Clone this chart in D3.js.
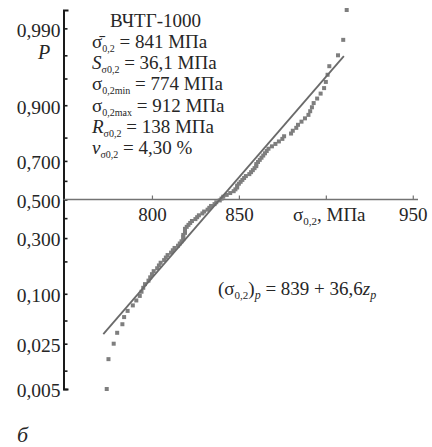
<!DOCTYPE html>
<html>
<head>
<meta charset="utf-8">
<script src="https://cdn.jsdelivr.net/npm/d3@7"></script>
<style>
  html, body { margin: 0; padding: 0; background: #fff; }
  svg { display: block; }
</style>
</head>
<body>
<svg id="chart" width="432" height="447"></svg>
<script>
// Yield strength σ0,2 of ВЧТГ-1000 samples, sorted ascending (MPa)
const sigmaValues = [
  774, 775, 778, 780, 783, 784, 786, 789, 791, 793,
  794, 795, 796, 798, 799, 800, 801, 803, 804, 805,
  807, 808, 809, 811, 812, 813, 815, 816, 817, 818,
  818, 818, 819, 819, 819, 820, 821, 822, 823, 825,
  826, 827, 829, 830, 832, 833, 834, 836, 837, 839,
  840, 841, 843, 845, 847, 848, 849, 849, 850, 851,
  852, 853, 854, 856, 857, 858, 859, 860, 860, 861,
  862, 863, 864, 865, 866, 867, 869, 871, 873, 875,
  876, 880, 881, 883, 884, 886, 888, 890, 891, 892,
  893, 895, 897, 899, 900, 901, 902, 907, 910, 912
];

// Probability-axis ticks
const pMajor = [0.005, 0.025, 0.1, 0.3, 0.5, 0.7, 0.9, 0.99];
const pMajorLabels = ["0,005", "0,025", "0,100", "0,300", "0,500", "0,700", "0,900", "0,990"];
const pMinor = [0.01, 0.05, 0.2, 0.4, 0.6, 0.8, 0.95, 0.975];
const pLimits = [0.005, 0.995];

// Strength-axis ticks (900 is left unlabelled: the axis title sits there)
const xTicks = [800, 850, 900, 950];
const xTickLabels = ["800", "850", "", "950"];
const xDomain = [750, 953];

// Fitted line (σ0,2)p = 839 + 36,6 zp, drawn over this z span
const fitIntercept = 839;
const fitSlope = 36.6;
const fitZSpan = [-1.83, 1.95];

// Statistics block
const titleText = "ВЧТГ-1000";
const statLines = [
  { sym: "σ\u0304", symItalic: false, sub: "0,2", text: " = 841 МПа" },
  { sym: "S", symItalic: true, sub: "σ0,2", text: " = 36,1 МПа" },
  { sym: "σ", symItalic: false, sub: "0,2min", text: " = 774 МПа" },
  { sym: "σ", symItalic: false, sub: "0,2max", text: " = 912 МПа" },
  { sym: "R", symItalic: true, sub: "σ0,2", text: " = 138 МПа" },
  { sym: "v", symItalic: true, sub: "σ0,2", text: " = 4,30 %" }
];

const FONT = '"Liberation Serif"';

// Inverse standard normal CDF (Acklam's rational approximation)
function probit(p) {
  const a = [-3.969683028665376e+01, 2.209460984245205e+02, -2.759285104469687e+02,
             1.383577518672690e+02, -3.066479806614716e+01, 2.506628277459239e+00];
  const b = [-5.447609879822406e+01, 1.615858368580409e+02, -1.556989798598866e+02,
             6.680131188771972e+01, -1.328068155288572e+01];
  const c = [-7.784894002430293e-03, -3.223964580411365e-01, -2.400758277161838e+00,
             -2.549671500258210e+00, 4.374664141464968e+00, 2.938163982698783e+00];
  const d = [7.784695709041462e-03, 3.224671290700398e-01, 2.445134137142996e+00,
             3.754408661907416e+00];
  const pl = 0.02425, ph = 1 - pl;
  let q, r;
  if (p < pl) {
    q = Math.sqrt(-2 * Math.log(p));
    return (((((c[0]*q+c[1])*q+c[2])*q+c[3])*q+c[4])*q+c[5]) /
           ((((d[0]*q+d[1])*q+d[2])*q+d[3])*q+1);
  } else if (p <= ph) {
    q = p - 0.5; r = q * q;
    return (((((a[0]*r+a[1])*r+a[2])*r+a[3])*r+a[4])*r+a[5])*q /
           (((((b[0]*r+b[1])*r+b[2])*r+b[3])*r+b[4])*r+1);
  } else {
    q = Math.sqrt(-2 * Math.log(1 - p));
    return -(((((c[0]*q+c[1])*q+c[2])*q+c[3])*q+c[4])*q+c[5]) /
            ((((d[0]*q+d[1])*q+d[2])*q+d[3])*q+1);
  }
}

const svg = d3.select("#chart");
const axisX0 = 63.5;

const x = d3.scaleLinear().domain(xDomain).range([65, 418]);
const y = d3.scaleLinear().domain(pLimits.map(probit)).range([389, 10]);

const textColor = "#262626";
const markColor = "#7e7e7e";

// Serif text helper
function serif(sel, size) {
  return sel.style("font-family", FONT).style("font-size", size + "px").attr("fill", textColor);
}

// Y axis (probability scale): bracket-shaped domain, inward ticks
const yAxis = d3.axisLeft(y)
  .tickValues(pMajor.map(probit))
  .tickFormat((d, i) => pMajorLabels[i])
  .tickSizeInner(-4)
  .tickSizeOuter(-5)
  .tickPadding(3);

const gy = svg.append("g").attr("transform", `translate(${axisX0},0)`).call(yAxis);
gy.select(".domain").attr("stroke", "#1a1a1a").attr("stroke-width", 2);
gy.selectAll(".tick line").attr("stroke", "#1a1a1a").attr("stroke-width", 1.6);
serif(gy.selectAll(".tick text"), 19.5).attr("dy", "0.4em");

const yMinor = d3.axisLeft(y)
  .tickValues(pMinor.map(probit))
  .tickFormat("")
  .tickSizeInner(-4)
  .tickSizeOuter(0);
const gym = svg.append("g").attr("transform", `translate(${axisX0},0)`).call(yMinor);
gym.select(".domain").remove();
gym.selectAll(".tick line").attr("stroke", "#1a1a1a").attr("stroke-width", 1.6);

// X axis through P = 0,500
const xAxis = d3.axisBottom(x)
  .tickValues(xTicks)
  .tickFormat((d, i) => xTickLabels[i])
  .tickSizeInner(-4)
  .tickSizeOuter(0)
  .tickPadding(8);
const gx = svg.append("g").attr("transform", `translate(0,${y(probit(0.5))})`).call(xAxis);
gx.select(".domain").attr("stroke", "#737373").attr("stroke-width", 1.6)
  .attr("d", `M${axisX0},0H${x(xDomain[1])}`);
gx.selectAll(".tick line").attr("stroke", "#737373").attr("stroke-width", 1.2);
serif(gx.selectAll(".tick text"), 19);

// Axis titles
const xTitle = serif(svg.append("text").attr("x", 293).attr("y", 221), 19);
xTitle.append("tspan").text("σ");
xTitle.append("tspan").style("font-size", "11px").attr("dy", 4).text("0,2");
xTitle.append("tspan").attr("dy", -4).text(", МПа");

serif(svg.append("text").attr("x", 38).attr("y", 59), 20)
  .style("font-style", "italic").text("P");

// Sample points at plotting positions (i - 0.5) / n
const n = sigmaValues.length;
svg.append("g").selectAll("rect")
  .data(sigmaValues)
  .join("rect")
  .attr("x", d => x(d) - 2)
  .attr("y", (d, i) => y(probit((i + 0.5) / n)) - 2)
  .attr("width", 4).attr("height", 4)
  .attr("fill", markColor);

// Fitted straight line
svg.append("line")
  .attr("x1", x(fitIntercept + fitSlope * fitZSpan[0]))
  .attr("y1", y(fitZSpan[0]))
  .attr("x2", x(fitIntercept + fitSlope * fitZSpan[1]))
  .attr("y2", y(fitZSpan[1]))
  .attr("stroke", "#6a6a6a").attr("stroke-width", 1.8);

// Statistics block
serif(svg.append("text").attr("x", 110).attr("y", 27), 19).text(titleText);

statLines.forEach((s, i) => {
  const t = serif(svg.append("text").attr("x", 92).attr("y", 48 + 21.2 * i), 19);
  t.append("tspan").style("font-style", s.symItalic ? "italic" : "normal").text(s.sym);
  t.append("tspan").style("font-size", "10px").attr("dy", 4).text(s.sub);
  t.append("tspan").attr("dy", -4).text(s.text);
});

// Regression equation
const eq = serif(svg.append("text").attr("x", 218).attr("y", 295), 19);
eq.append("tspan").text("(σ");
eq.append("tspan").style("font-size", "11px").attr("dy", 4).text("0,2");
eq.append("tspan").attr("dy", -4).text(")");
eq.append("tspan").style("font-size", "12px").style("font-style", "italic").attr("dy", 4).text("p");
eq.append("tspan").attr("dy", -4).text(" = 839 + 36,6");
eq.append("tspan").style("font-style", "italic").text("z");
eq.append("tspan").style("font-size", "12px").style("font-style", "italic").attr("dy", 4).text("p");

// Panel letter
serif(svg.append("text").attr("x", 17).attr("y", 442), 22)
  .style("font-style", "italic").text("б");
</script>
</body>
</html>
